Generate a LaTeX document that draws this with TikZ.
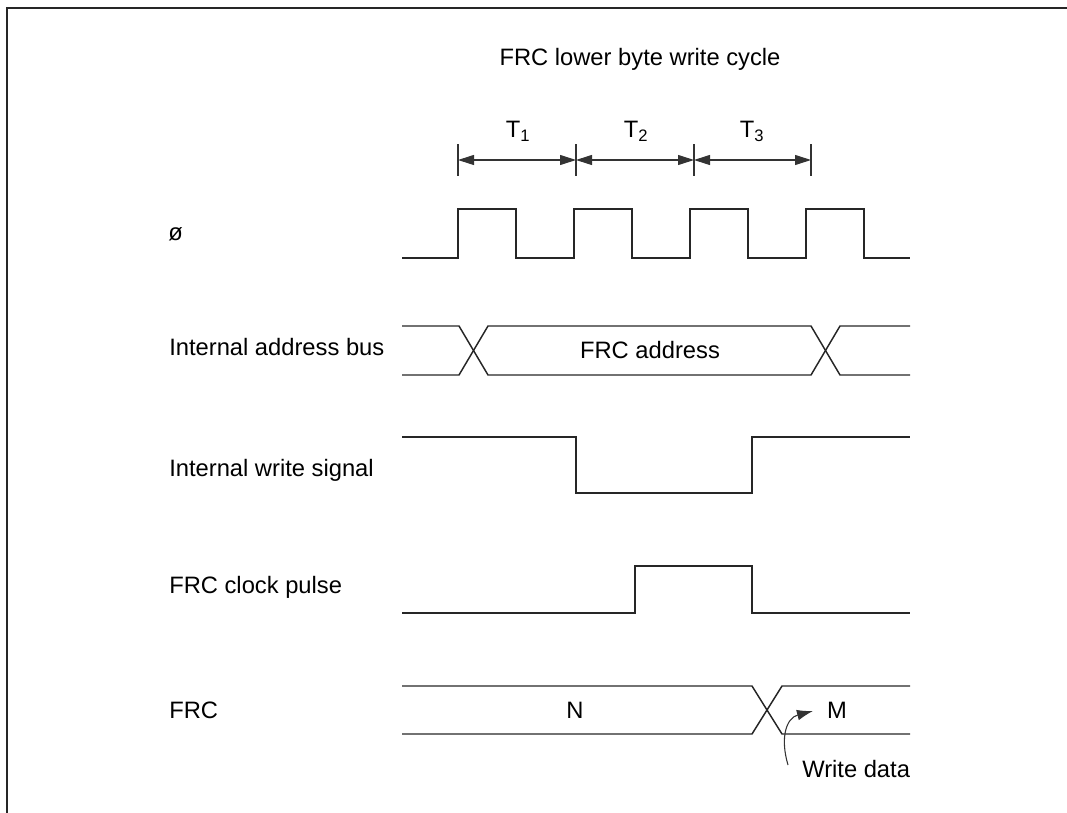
\documentclass[tikz,border=0pt]{standalone}
\usepackage{fontspec}
\setmainfont{Liberation Sans}
\usetikzlibrary{arrows.meta}
\begin{document}
\begin{tikzpicture}[x=0.75pt,y=-0.75pt,
  wave/.style={line width=1.1pt, line join=miter, black!85},
  thin/.style={line width=0.8pt, black!80},
  lbl/.style={font=\fontsize{17.8}{21}\selectfont, inner sep=0pt},
  dim/.style={thin, {Triangle[length=12pt,width=7.5pt]}-{Triangle[length=12pt,width=7.5pt]}}]
\useasboundingbox (0,0) rectangle (1067,813);
\draw[line width=1.1pt, black!85] (7,813) -- (7,8) -- (1067,8);

% title and period labels
\node[lbl, anchor=base] (title) at (640,66) {FRC lower byte write cycle};
\node[lbl, anchor=base] (T1) at (518,138) {T\textsubscript{1}};
\node[lbl, anchor=base] (T2) at (636,138) {T\textsubscript{2}};
\node[lbl, anchor=base] (T3) at (752,138) {T\textsubscript{3}};

% period markers
\coordinate (p0) at (458,160);
\coordinate (p1) at (576,160);
\coordinate (p2) at (694,160);
\coordinate (p3) at (811,160);
\foreach \p in {p0,p1,p2,p3} \draw[thin] ([yshift=-12]\p) -- ([yshift=12]\p);
\draw[dim] (p0) -- (p1);
\draw[dim] (p1) -- (p2);
\draw[dim] (p2) -- (p3);

% signal names
\node[lbl, anchor=base west] (phi) at (168,240) {ø};
\node[lbl, anchor=base west] (addr) at (169,355) {Internal address bus};
\node[lbl, anchor=base west] (wr) at (169,476) {Internal write signal};
\node[lbl, anchor=base west] (clk) at (169,593) {FRC clock pulse};
\node[lbl, anchor=base west] (frc) at (169,718) {FRC};

% clock
\draw[wave] (402,258) -- (458,258) -- (458,209) -- (516,209) -- (516,258)
  -- (574,258) -- (574,209) -- (632,209) -- (632,258)
  -- (690,258) -- (690,209) -- (748,209) -- (748,258)
  -- (806,258) -- (806,209) -- (864,209) -- (864,258) -- (910,258);

% internal address bus
\draw[wave] (402,326) -- (459,326) -- (488,375) -- (811,375) -- (840,326) -- (910,326);
\draw[wave] (402,375) -- (459,375) -- (488,326) -- (811,326) -- (840,375) -- (910,375);
\node[lbl, anchor=base] (addrtxt) at (650,358) {FRC address};

% internal write signal
\draw[wave] (402,437) -- (576,437) -- (576,493) -- (752,493) -- (752,437) -- (910,437);

% FRC clock pulse
\draw[wave] (402,613) -- (635,613) -- (635,566) -- (752,566) -- (752,613) -- (910,613);

% FRC
\draw[wave] (402,686) -- (752,686) -- (782,734) -- (910,734);
\draw[wave] (402,734) -- (752,734) -- (782,686) -- (910,686);
\node[lbl, anchor=base] (N) at (575,718) {N};
\node[lbl, anchor=base] (M) at (837,718) {M};
\node[lbl, anchor=base west] (wd) at (802,777) {Write data};
\coordinate (wdstart) at (788,765);
\coordinate (wdtip) at (813,711);
\draw[thin, -{Latex[length=12pt,width=8pt]}] (wdstart) .. controls (780,738) and (786,718) .. (wdtip);
\end{tikzpicture}
\end{document}
